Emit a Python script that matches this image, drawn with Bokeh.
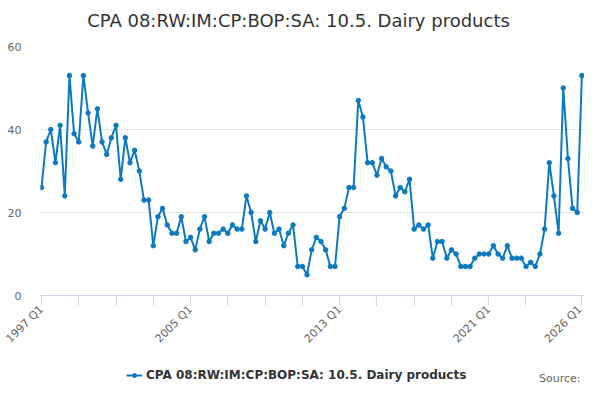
from bokeh.plotting import figure
from bokeh.models import FixedTicker, Legend, LegendItem, Label
from bokeh.layouts import column
from bokeh.embed import file_html
from bokeh.resources import INLINE
import math

title_text = "CPA 08:RW:IM:CP:BOP:SA: 10.5. Dairy products"
series_name = "CPA 08:RW:IM:CP:BOP:SA: 10.5. Dairy products"
source_text = "Source:"

first_year = 1997
values = [
    26, 37, 40, 32,   # 1997
    41, 24, 53, 39,   # 1998
    37, 53, 44, 36,   # 1999
    45, 37, 34, 38,   # 2000
    41, 28, 38, 32,   # 2001
    35, 30, 23, 23,   # 2002
    12, 19, 21, 17,   # 2003
    15, 15, 19, 13,   # 2004
    14, 11, 16, 19,   # 2005
    13, 15, 15, 16,   # 2006
    15, 17, 16, 16,   # 2007
    24, 20, 13, 18,   # 2008
    16, 20, 15, 16,   # 2009
    12, 15, 17, 7,    # 2010
    7, 5, 11, 14,     # 2011
    13, 11, 7, 7,     # 2012
    19, 21, 26, 26,   # 2013
    47, 43, 32, 32,   # 2014
    29, 33, 31, 30,   # 2015
    24, 26, 25, 28,   # 2016
    16, 17, 16, 17,   # 2017
    9, 13, 13, 9,     # 2018
    11, 10, 7, 7,     # 2019
    7, 9, 10, 10,     # 2020
    10, 12, 10, 9,    # 2021
    12, 9, 9, 9,      # 2022
    7, 8, 7, 10,      # 2023
    16, 32, 24, 15,   # 2024
    50, 33, 21, 20,   # 2025
    53,               # 2026
]
quarters = [f"{first_year + i // 4} Q{i % 4 + 1}" for i in range(len(values))]
x = list(range(len(values)))

tick_positions = [0, 8, 16, 24, 32, 40, 48, 56, 64, 72, 80, 88, 96, 104, 116]
labelled_ticks = ["1997 Q1", "2005 Q1", "2013 Q1", "2021 Q1", "2026 Q1"]
y_ticks = [0, 20, 40, 60]

color = "#0b7ac1"
font = "DejaVu Sans"


def strip(height):
    f = figure(width=584, height=height, output_backend="svg", toolbar_location=None,
               title=None, x_range=(0, 1), y_range=(0, 1),
               x_axis_type=None, y_axis_type=None,
               min_border_left=40, min_border_right=0, min_border_top=0, min_border_bottom=0)
    f.outline_line_color = None
    f.xgrid.grid_line_color = None
    f.ygrid.grid_line_color = None
    return f


# ---- title strip ----
t = strip(36)
t.add_layout(Label(x=258, y=16, x_units="screen", y_units="screen", text=title_text,
                   text_align="center", text_baseline="alphabetic", text_font=font,
                   text_font_size="18px", text_color="#333333"))

# ---- main chart ----
p = figure(width=584, height=317, output_backend="svg", toolbar_location=None,
           title=None, x_range=(-0.21, 116.56), y_range=(0, 60),
           min_border_left=40, min_border_right=0, min_border_top=10, min_border_bottom=56)
p.outline_line_color = None
p.background_fill_color = "white"
p.border_fill_color = "white"

p.line(x, values, line_color=color, line_width=2)
p.scatter(x, values, size=4.5, fill_color=color, line_color=color)

p.xgrid.grid_line_color = None
p.ygrid.grid_line_color = "#e6e6e6"
p.ygrid.grid_line_width = 1

p.yaxis.ticker = FixedTicker(ticks=y_ticks)
p.yaxis.axis_line_color = None
p.yaxis.major_tick_line_color = None
p.yaxis.minor_tick_line_color = None
p.yaxis.major_label_standoff = 13
p.yaxis.major_label_text_font = font
p.yaxis.major_label_text_font_size = "11px"
p.yaxis.major_label_text_color = "#666666"

p.xaxis.ticker = FixedTicker(ticks=tick_positions)
overrides = {}
for tp in tick_positions:
    lab = quarters[tp]
    overrides[tp] = lab if lab in labelled_ticks else ""
p.xaxis.major_label_overrides = overrides
p.xaxis.axis_line_color = "#ccd6eb"
p.xaxis.major_tick_line_color = "#ccd6eb"
p.xaxis.major_tick_in = 0
p.xaxis.major_tick_out = 10
p.xaxis.minor_tick_line_color = None
p.xaxis.major_label_orientation = math.pi / 4
p.xaxis.major_label_standoff = 2
p.xaxis.major_label_text_font = font
p.xaxis.major_label_text_font_size = "11px"
p.xaxis.major_label_text_color = "#666666"

# ---- legend / source strip ----
q = strip(31)
# series drawn outside this strip's visible range; used only for the legend key
ql = q.line(x, values, line_color=color, line_width=2)
qs = q.scatter(x, values, size=4.5, fill_color=color, line_color=color)

legend = Legend(items=[LegendItem(label=series_name, renderers=[ql, qs])],
                location=(86, 2), orientation="horizontal",
                label_text_font=font, label_text_font_size="12px",
                label_text_font_style="bold", label_text_color="#333333",
                glyph_width=16, glyph_height=10, border_line_color=None,
                background_fill_alpha=0, padding=2, margin=0, label_standoff=4)
q.add_layout(legend)

q.add_layout(Label(x=540, y=6, x_units="screen", y_units="screen", text=source_text,
                   text_align="right", text_baseline="alphabetic", text_font=font,
                   text_font_size="11px", text_color="#666666"))

layout = column(t, p, q, spacing=0)
open("out.html", "w").write(file_html(layout, INLINE))
